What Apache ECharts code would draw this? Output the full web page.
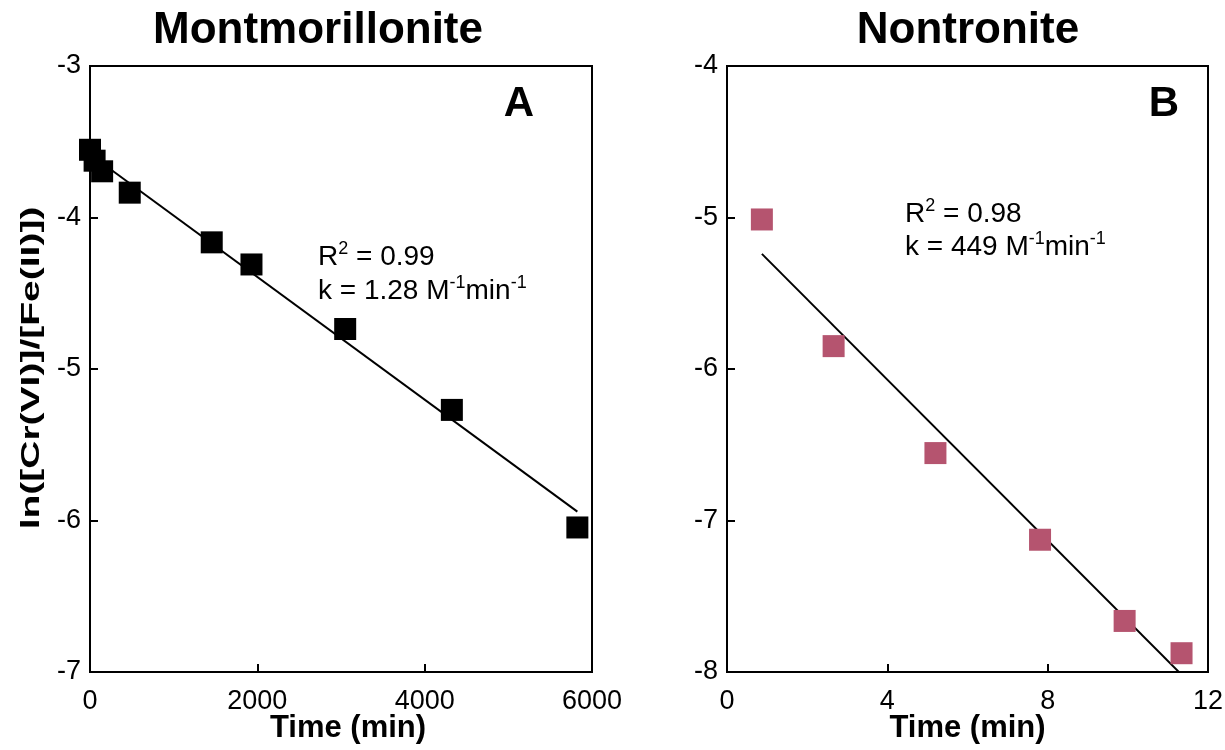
<!DOCTYPE html>
<html>
<head>
<meta charset="utf-8">
<script src="https://cdn.jsdelivr.net/npm/echarts@6/dist/echarts.min.js"></script>
<style>
  html, body { margin: 0; padding: 0; background: #fff; }
  #chart { width: 1225px; height: 750px; }
</style>
</head>
<body>
<div id="chart"></div>
<script>
// Montmorillonite: time (min) and ln([Cr(VI)]/[Fe(II)])
const timeMont = [0, 55, 145, 475, 1455, 1930, 3050, 4325, 5825];
const lnMont = [-3.553, -3.625, -3.695, -3.836, -4.164, -4.31, -4.736, -5.27, -6.046];

// Nontronite: time (min) and ln([Cr(VI)]/[Fe(II)])
const timeNont = [0.87, 2.66, 5.20, 7.81, 9.92, 11.34];
const lnNont = [-5.013, -5.849, -6.555, -7.127, -7.663, -7.876];

// Axis ticks
const xTicksMont = { min: 0, max: 6000, interval: 2000 };
const yTicksMont = { min: -7, max: -3, interval: 1 };
const xTicksNont = { min: 0, max: 12, interval: 4 };
const yTicksNont = { min: -8, max: -4, interval: 1 };

const FONT = '"Liberation Sans", Arial, Helvetica, sans-serif';

// Least-squares line through the points, spanning the measured time range
function fitLine(xs, ys) {
  const n = xs.length;
  const mx = xs.reduce((a, b) => a + b, 0) / n;
  const my = ys.reduce((a, b) => a + b, 0) / n;
  let sxy = 0, sxx = 0;
  for (let i = 0; i < n; i++) {
    sxy += (xs[i] - mx) * (ys[i] - my);
    sxx += (xs[i] - mx) * (xs[i] - mx);
  }
  const slope = sxy / sxx;
  const icpt = my - slope * mx;
  const x0 = Math.min(...xs), x1 = Math.max(...xs);
  return [[x0, icpt + slope * x0], [x1, icpt + slope * x1]];
}

const pairs = (xs, ys) => xs.map((x, i) => [x, ys[i]]);

function xAxisCfg(t, idx, namePad) {
  return {
    type: 'value', gridIndex: idx, min: t.min, max: t.max, interval: t.interval,
    name: 'Time (min)', nameLocation: 'middle', nameGap: 41, nameMoveOverlap: false,
    nameTextStyle: { fontFamily: FONT, fontWeight: 'bold', fontSize: 31, color: '#000', padding: namePad },
    axisLine: { show: true, lineStyle: { color: '#000', width: 2 } },
    axisTick: { show: true, inside: true, length: 8, lineStyle: { color: '#000', width: 2 } },
    axisLabel: { fontFamily: FONT, fontSize: 27, color: '#000', margin: 16, formatter: v => String(v) },
    splitLine: { show: false }
  };
}
function yAxisCfg(t, idx) {
  return {
    type: 'value', gridIndex: idx, min: t.min, max: t.max, interval: t.interval,
    axisLine: { show: true, lineStyle: { color: '#000', width: 2 } },
    axisTick: { show: true, inside: true, length: 8, lineStyle: { color: '#000', width: 2 } },
    axisLabel: { fontFamily: FONT, fontSize: 27, color: '#000', margin: 9, formatter: v => String(v) },
    splitLine: { show: false }
  };
}

const supRich = {
  n: { fontFamily: FONT, fontSize: 28, color: '#000', lineHeight: 34 },
  s: { fontFamily: FONT, fontSize: 18, color: '#000', verticalAlign: 'top', lineHeight: 24 }
};

function note(x, y, text) {
  return { type: 'text', x: x, y: y, silent: true, style: { text: text, rich: supRich } };
}
function heading(x, y, text, size) {
  return {
    type: 'text', x: x, y: y, silent: true,
    style: { text: text, font: 'bold ' + size + 'px ' + FONT, fill: '#000', align: 'center', verticalAlign: 'middle' }
  };
}

const chart = echarts.init(document.getElementById('chart'), null, { renderer: 'canvas' });
chart.setOption({
  animation: false,
  backgroundColor: '#fff',
  grid: [
    { left: 90, top: 66, width: 502, height: 606, outerBoundsMode: 'none', show: true, borderColor: '#000', borderWidth: 2, backgroundColor: 'transparent' },
    { left: 727, top: 66, width: 481, height: 606, outerBoundsMode: 'none', show: true, borderColor: '#000', borderWidth: 2, backgroundColor: 'transparent' }
  ],
  xAxis: [xAxisCfg(xTicksMont, 0, [0, 0, 0, 14]), xAxisCfg(xTicksNont, 1, 0)],
  yAxis: [yAxisCfg(yTicksMont, 0), yAxisCfg(yTicksNont, 1)],
  series: [
    {
      type: 'line', xAxisIndex: 0, yAxisIndex: 0, data: fitLine(timeMont, lnMont),
      showSymbol: false, lineStyle: { color: '#000', width: 2 }, z: 2
    },
    {
      type: 'scatter', xAxisIndex: 0, yAxisIndex: 0, data: pairs(timeMont, lnMont),
      symbol: 'rect', symbolSize: 22, itemStyle: { color: '#000', opacity: 1 }, z: 3
    },
    {
      type: 'line', xAxisIndex: 1, yAxisIndex: 1, data: fitLine(timeNont, lnNont),
      showSymbol: false, lineStyle: { color: '#000', width: 2 }, z: 2
    },
    {
      type: 'scatter', xAxisIndex: 1, yAxisIndex: 1, data: pairs(timeNont, lnNont),
      symbol: 'rect', symbolSize: 22, itemStyle: { color: '#B5546F', opacity: 1 }, z: 3
    }
  ],
  graphic: [
    heading(318, 31, 'Montmorillonite', 44),
    heading(968, 31, 'Nontronite', 44),
    heading(519, 104, 'A', 42),
    heading(1164, 104, 'B', 42),
    {
      // axis title, drawn a little stretched along its length
      type: 'text', x: 32, y: 368, rotation: Math.PI / 2, scaleX: 1.5, silent: true,
      style: { text: 'ln([Cr(VI)]/[Fe(II)])', font: 'bold 26px ' + FONT, fill: '#000', align: 'center', verticalAlign: 'middle' }
    },
    note(318, 240, '{n|R}{s|2}{n| = 0.99}'),
    note(318, 274, '{n|k = 1.28 M}{s|-1}{n|min}{s|-1}'),
    note(905, 197, '{n|R}{s|2}{n| = 0.98}'),
    note(905, 230, '{n|k = 449 M}{s|-1}{n|min}{s|-1}')
  ]
});
</script>
</body>
</html>
